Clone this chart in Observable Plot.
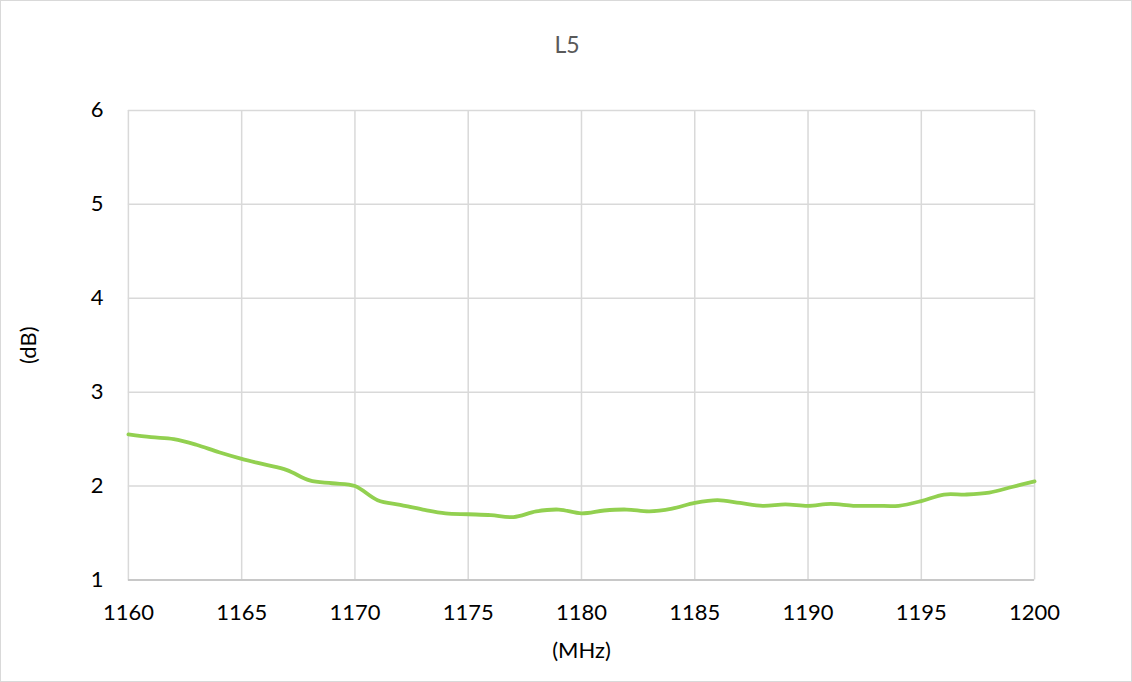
<!DOCTYPE html>
<html>
<head>
<meta charset="utf-8">
<script src="https://cdn.jsdelivr.net/npm/d3@7"></script>
<script src="https://cdn.jsdelivr.net/npm/@observablehq/plot@0.6"></script>
<style>
  html, body { margin: 0; padding: 0; background: #fff; }
  #wrap { position: relative; width: 1132px; height: 682px; box-sizing: border-box; border: 1px solid #d9d9d9; overflow: hidden; }
  #title { position: absolute; left: 0; width: 1132px; top: 29px; text-align: center; font-family: Lato, "Open Sans", sans-serif; font-size: 23px; color: #595959; }
  #chart { position: absolute; left: -1px; top: -1px; }
</style>
</head>
<body>
<div id="wrap">
  <div id="title">L5</div>
  <div id="chart"></div>
</div>
<script>
const freqs = [1160,1161,1162,1163,1164,1165,1166,1167,1168,1169,1170,1171,1172,1173,1174,1175,1176,1177,1178,1179,1180,1181,1182,1183,1184,1185,1186,1187,1188,1189,1190,1191,1192,1193,1194,1195,1196,1197,1198,1199,1200];
const values = [2.55,2.52,2.50,2.44,2.36,2.29,2.23,2.17,2.06,2.03,2.00,1.85,1.80,1.75,1.71,1.70,1.69,1.67,1.73,1.75,1.71,1.74,1.75,1.73,1.76,1.82,1.85,1.82,1.79,1.805,1.79,1.81,1.79,1.79,1.79,1.84,1.91,1.91,1.93,1.99,2.05];
const xTicks = [1160,1165,1170,1175,1180,1185,1190,1195,1200];
const yTicks = [1,2,3,4,5,6];

const data = freqs.map((f, i) => ({f, v: values[i]}));

const chart = Plot.plot({
  width: 1132,
  height: 682,
  marginLeft: 128,
  marginRight: 97,
  marginTop: 110,
  marginBottom: 102,
  style: {fontFamily: "Lato, 'Open Sans', sans-serif", fontSize: "22px", color: "#000", background: "transparent"},
  x: {domain: [1160, 1200], ticks: xTicks, tickSize: 0, tickPadding: 24, label: "(MHz)", labelAnchor: "center", labelOffset: 78, labelArrow: "none", tickFormat: d => String(d)},
  y: {domain: [1, 6], ticks: yTicks, tickSize: 0, tickPadding: 25, label: "(dB)", labelAnchor: "center", labelOffset: 108, labelArrow: "none", tickFormat: d => String(d)},
  marks: [
    Plot.gridX(xTicks, {stroke: "#d9d9d9", strokeOpacity: 1, strokeWidth: 1.5}),
    Plot.gridY(yTicks, {stroke: "#d9d9d9", strokeOpacity: 1, strokeWidth: 1.5}),
    Plot.ruleY([1], {stroke: "#bfbfbf", strokeWidth: 1.5}),
    Plot.line(data, {x: "f", y: "v", stroke: "#92d050", strokeWidth: 3.8, curve: "catmull-rom"})
  ]
});
document.getElementById("chart").appendChild(chart);
</script>
</body>
</html>
